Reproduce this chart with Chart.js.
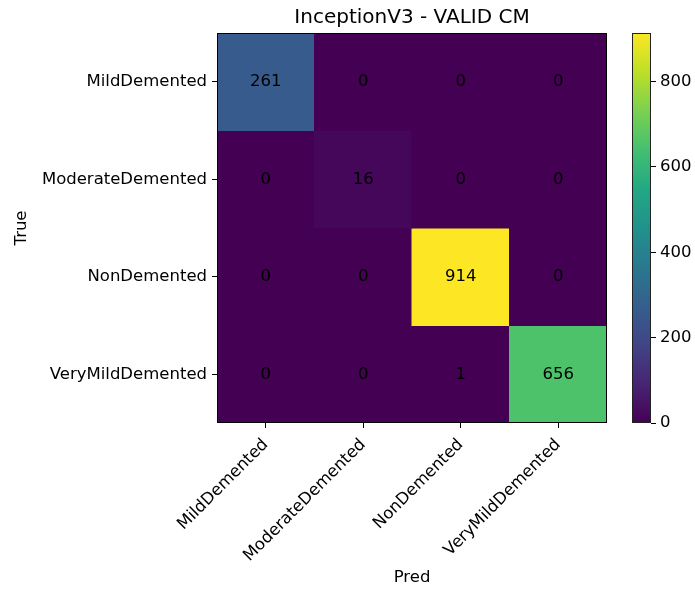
<!DOCTYPE html>
<html><head><meta charset="utf-8">
<script src="https://cdn.jsdelivr.net/npm/chart.js@4.4.1/dist/chart.umd.min.js"></script>
<style>
html,body{margin:0;padding:0;background:#fff;}
#wrap{position:relative;width:695px;height:594px;overflow:hidden;}
#cm{position:absolute;left:0;top:0;}
#cb{position:absolute;left:600px;top:0;}
</style></head><body>
<div id="wrap">
<canvas id="cm" width="695" height="594"></canvas>
<canvas id="cb" width="95" height="594"></canvas>
</div>
<script>
// Class names shared by both axes
const classNames = ['MildDemented', 'ModerateDemented', 'NonDemented', 'VeryMildDemented'];
// Confusion-matrix rows: true class -> counts per predicted class
const trueMild = [261, 0, 0, 0];
const trueModerate = [0, 16, 0, 0];
const trueNon = [0, 0, 914, 0];
const trueVeryMild = [0, 0, 1, 656];
// Colorbar tick values
const colorbarTicks = [0, 200, 400, 600, 800];

const matrixRows = [trueMild, trueModerate, trueNon, trueVeryMild];
const vmin = 0;
const vmax = Math.max(...matrixRows.flat());

// viridis colormap sampled at 0, 0.1, ..., 1
const VIRIDIS = ['#440154','#482475','#414487','#355f8d','#2a788e','#21918c','#22a884','#44bf70','#7ad151','#bddf26','#fde725'];
function hexToRgb(h){return [parseInt(h.slice(1,3),16),parseInt(h.slice(3,5),16),parseInt(h.slice(5,7),16)];}
function viridis(t){
  t = Math.min(1, Math.max(0, t));
  const p = t * (VIRIDIS.length - 1);
  const i = Math.min(VIRIDIS.length - 2, Math.floor(p));
  const f = p - i;
  const a = hexToRgb(VIRIDIS[i]), b = hexToRgb(VIRIDIS[i + 1]);
  const c = a.map((v, k) => Math.round(v + (b[k] - v) * f));
  return `rgb(${c[0]},${c[1]},${c[2]})`;
}

const FONT = 'DejaVu Sans';
const FS = 16.5;
Chart.defaults.font.family = FONT;
Chart.defaults.color = '#000';

// Outline around the plotting area
const frame = {
  id: 'frame',
  afterDatasetsDraw(chart, args, opts) {
    const a = chart.chartArea, ctx = chart.ctx;
    ctx.save();
    ctx.strokeStyle = opts.color || '#000';
    ctx.lineWidth = 1;
    ctx.strokeRect(Math.round(a.left) + 0.5, Math.round(a.top) + 0.5,
                   Math.round(a.right - a.left) - 1, Math.round(a.bottom - a.top) - 1);
    ctx.restore();
  }
};

// Count written in the middle of every cell
const cellText = {
  id: 'cellText',
  afterDatasetsDraw(chart) {
    const ctx = chart.ctx;
    ctx.save();
    ctx.font = `${FS}px "${FONT}"`;
    ctx.fillStyle = '#000';
    ctx.textAlign = 'center';
    ctx.textBaseline = 'middle';
    chart.data.datasets.forEach((ds, i) => {
      chart.getDatasetMeta(i).data.forEach((el, j) => {
        ctx.fillText(String(ds.counts[j]), el.x, (el.y + el.base) / 2);
      });
    });
    ctx.restore();
  }
};

const axisGrid = {drawOnChartArea: false, drawTicks: true, tickLength: 5, color: '#000', offset: false};

new Chart(document.getElementById('cm'), {
  type: 'bar',
  data: {
    labels: classNames,
    datasets: matrixRows.map((row, r) => ({
      label: classNames[r],
      data: row.map(() => [r - 0.5, r + 0.5]),
      counts: row,
      backgroundColor: row.map(v => viridis((v - vmin) / (vmax - vmin))),
      borderWidth: 0,
      inflateAmount: 0.5,
      barPercentage: 1,
      categoryPercentage: 1,
      grouped: false
    }))
  },
  options: {
    responsive: false,
    animation: false,
    events: [],
    layout: {padding: {left: 0, top: 0, right: 88, bottom: 0}},
    plugins: {
      legend: {display: false},
      tooltip: {enabled: false},
      title: {
        display: true, text: 'InceptionV3 - VALID CM', fullSize: false, color: '#000',
        font: {size: 20, weight: 'normal', lineHeight: '22px'},
        padding: {top: 7, bottom: 4}
      },
      frame: {color: '#000'}
    },
    scales: {
      x: {
        type: 'category',
        grid: axisGrid,
        border: {display: false},
        ticks: {minRotation: 45, maxRotation: 45, font: {size: FS}, padding: 7, color: '#000'},
        title: {display: true, text: 'Pred', font: {size: FS}, color: '#000', padding: {top: 0, bottom: 6}},
        afterFit(s) { s.height = 171; }
      },
      y: {
        type: 'linear', min: -0.5, max: 3.5, reverse: true,
        afterBuildTicks(s) { s.ticks = classNames.map((_, i) => ({value: i})); },
        ticks: {callback: v => classNames[v], font: {size: FS}, padding: 5, color: '#000'},
        grid: axisGrid,
        border: {display: false},
        title: {display: true, text: 'True', font: {size: FS}, color: '#000', padding: {top: 12, bottom: 0}},
        afterFit(s) { s.width = 217; }
      }
    }
  },
  plugins: [cellText, frame]
});

// Colorbar: one floating bar from vmin to vmax filled with the colormap
new Chart(document.getElementById('cb'), {
  type: 'bar',
  data: {
    labels: ['colorbar'],
    datasets: [{
      data: [[vmin, vmax]],
      backgroundColor(ctx) {
        const chart = ctx.chart, ys = chart.scales.y;
        if (!chart.chartArea || !ys) return VIRIDIS[0];
        const g = chart.ctx.createLinearGradient(0, ys.getPixelForValue(vmin), 0, ys.getPixelForValue(vmax));
        for (let k = 0; k <= 50; k++) g.addColorStop(k / 50, viridis(k / 50));
        return g;
      },
      borderWidth: 0,
      barPercentage: 1,
      categoryPercentage: 1
    }]
  },
  options: {
    responsive: false,
    animation: false,
    events: [],
    layout: {padding: {left: 32, top: 33, right: 0, bottom: 171}},
    plugins: {legend: {display: false}, tooltip: {enabled: false}, frame: {color: '#222'}},
    scales: {
      x: {display: false},
      y: {
        position: 'right', min: vmin, max: vmax,
        afterBuildTicks(s) { s.ticks = colorbarTicks.map(v => ({value: v})); },
        ticks: {font: {size: FS}, padding: 4, color: '#000'},
        grid: {drawOnChartArea: false, drawTicks: true, tickLength: 5, color: '#000'},
        border: {display: false},
        afterFit(s) { s.width = 44; }
      }
    }
  },
  plugins: [frame]
});
</script>
</body></html>
